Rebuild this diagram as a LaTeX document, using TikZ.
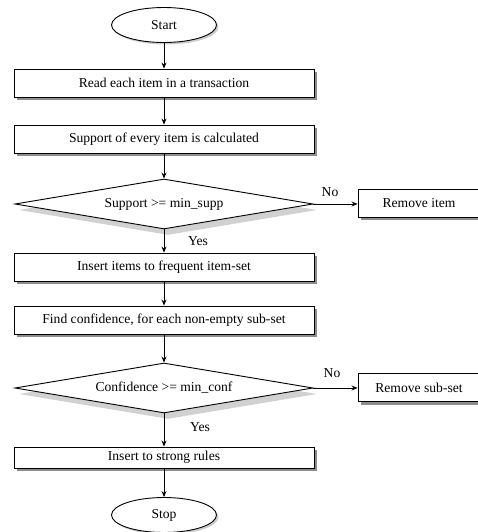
\documentclass[tikz,border=0pt]{standalone}
\usepackage{fontspec}
\setmainfont{Liberation Serif}
\usetikzlibrary{shapes.geometric,arrows.meta,shadows}

\begin{document}
\begin{tikzpicture}[x=1pt, y=-1pt,
    font=\fontsize{13.6}{15}\selectfont,
    every node/.style={line width=0.9pt},
    process/.style={draw, fill=white, minimum width=300, minimum height=28, inner sep=0pt,
        drop shadow={shadow xshift=3pt, shadow yshift=-3pt, fill=black!45, opacity=1}},
    terminal/.style={draw, ellipse, fill=white, minimum width=105, minimum height=35, inner sep=0pt,
        drop shadow={shadow xshift=2pt, shadow yshift=-2pt, fill=black!20, opacity=1}},
    decision/.style={draw, diamond, fill=white, aspect=6, minimum width=298, minimum height=50, inner sep=0pt,
        drop shadow={shadow xshift=4pt, shadow yshift=-6pt, fill=black!30, opacity=0.6}},
    flow/.style={-{Stealth[length=6pt, width=5pt]}, line width=0.9pt}]

      \clip (0, 0) rectangle (478, 532);

      \node[terminal] (start) at (164, 25) {Start};
      \node[process] (read) at (164, 83) {Read each item in a transaction};
      \node[process] (supp) at (164, 139) {Support of every item is calculated};
      \node[decision] (chksupp) at (164, 204) {Support >= min\_supp};
      \node[process, minimum width=122] (rmitem) at (419, 203) {Remove item};
      \node[process] (insitem) at (164, 267) {Insert items to frequent item-set};
      \node[process] (conf) at (164, 320) {Find confidence, for each non-empty sub-set};
      \node[decision] (chkconf) at (164, 388) {Confidence >= min\_conf};
      \node[process, minimum width=122] (rmsub) at (419, 387.5) {Remove sub-set};
      \node[process, minimum height=21] (insrule) at (164, 457.5) {Insert to strong rules};
      \node[terminal] (stop) at (164, 515) {Stop};

      \draw[flow] (start) -- (read);
      \draw[flow] (read) -- (supp);
      \draw[flow] (supp) -- (chksupp);
      \draw[flow] (chksupp.east) -- (chksupp.east -| rmitem.west);
      \draw[flow] (chksupp) -- (insitem);
      \draw[flow] (insitem) -- (conf);
      \draw[flow] (conf) -- (chkconf);
      \draw[flow] (chkconf.east) -- (chkconf.east -| rmsub.west);
      \draw[flow] (chkconf) -- (insrule);
      \draw[flow] (insrule) -- (stop);

      \node (no1) at (330, 192) {No};
      \node (yes1) at (198, 241) {Yes};
      \node (no2) at (332, 373) {No};
      \node (yes2) at (200, 427) {Yes};

    \end{tikzpicture}
\end{document}
